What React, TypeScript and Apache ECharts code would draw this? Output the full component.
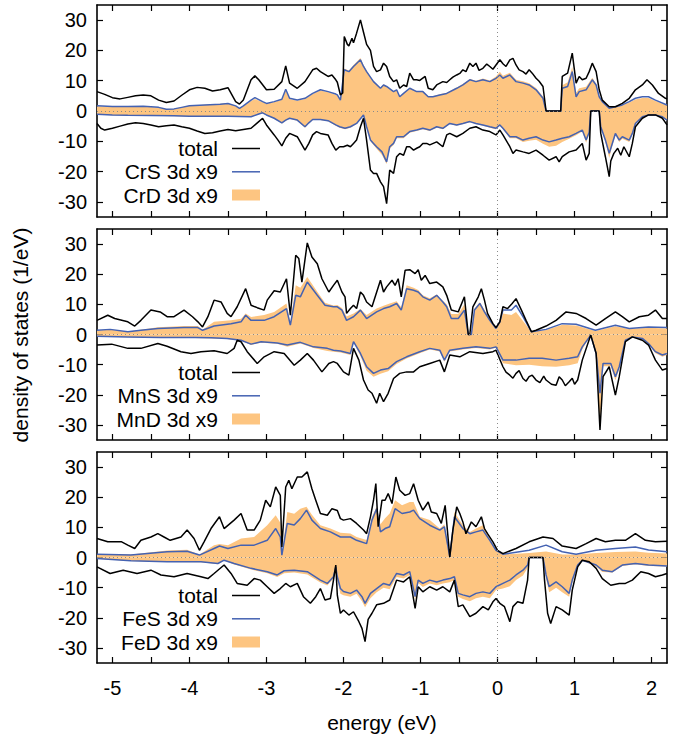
import React, { useEffect, useRef } from "react";
import * as echarts from "echarts";

const X_LABELS = [-5, -4, -3, -2, -1, 0, 1, 2];
const X_TICKS = [-5, -4.5, -4, -3.5, -3, -2.5, -2, -1.5, -1, -0.5, 0, 0.5, 1, 1.5, 2];
const Y_TICKS = [-30, -20, -10, 0, 10, 20, 30];
const PANEL_NAMES = ["Cr", "Mn", "Fe"];

// ---------- Cr panel ----------
const CR_TOT_UP = [[-5.2,6.4],[-5.1,5.5],[-5.0,4.4],[-4.9,4.0],[-4.8,4.5],[-4.7,5.0],[-4.6,5.3],[-4.5,5.0],[-4.4,3.6],[-4.3,2.8],[-4.2,3.3],[-4.1,5.2],[-4.0,7.0],[-3.9,7.8],[-3.8,7.5],[-3.7,6.6],[-3.6,7.0],[-3.5,7.7],[-3.4,3.1],[-3.35,2.3],[-3.3,3.6],[-3.2,10.3],[-3.15,11.6],[-3.1,10.3],[-3.0,7.0],[-2.9,7.2],[-2.8,9.7],[-2.75,14.9],[-2.7,9.2],[-2.6,7.5],[-2.5,9.7],[-2.4,13.6],[-2.35,14.1],[-2.3,13.0],[-2.2,11.4],[-2.15,11.9],[-2.1,10.3],[-2.08,9.5],[-2.04,5.3],[-2.01,6.0],[-1.99,24.6],[-1.95,22.0],[-1.93,21.5],[-1.89,24.0],[-1.87,22.5],[-1.83,25.7],[-1.78,30.1],[-1.74,26.0],[-1.70,22.0],[-1.65,20.0],[-1.61,14.7],[-1.57,13.0],[-1.52,13.6],[-1.48,15.8],[-1.44,14.7],[-1.40,11.4],[-1.35,9.7],[-1.31,10.3],[-1.27,7.5],[-1.22,8.6],[-1.18,8.1],[-1.14,12.5],[-1.09,10.3],[-1.05,10.3],[-1.01,10.1],[-0.94,11.4],[-0.90,7.5],[-0.84,7.0],[-0.79,8.6],[-0.71,9.7],[-0.66,9.4],[-0.62,10.3],[-0.58,11.2],[-0.53,11.9],[-0.49,12.4],[-0.45,13.6],[-0.41,13.0],[-0.36,15.8],[-0.32,14.7],[-0.28,15.8],[-0.24,13.4],[-0.19,14.1],[-0.14,15.5],[-0.10,14.7],[-0.06,13.8],[-0.02,15.2],[0.03,16.9],[0.07,15.6],[0.11,14.7],[0.16,16.9],[0.20,17.4],[0.24,15.2],[0.28,13.6],[0.33,13.0],[0.37,12.2],[0.41,13.6],[0.45,12.5],[0.50,10.8],[0.54,9.8],[0.59,8.1],[0.63,0],[0.82,0],[0.84,11.4],[0.91,12.5],[0.97,19.1],[1.02,9.2],[1.06,11.4],[1.10,10.3],[1.15,10.8],[1.19,13.0],[1.23,15.8],[1.28,13.0],[1.32,7.0],[1.36,3.6],[1.45,1.4],[1.53,1.4],[1.62,2.5],[1.71,4.2],[1.79,7.0],[1.88,8.6],[1.94,10.3],[2.01,8.6],[2.09,5.8],[2.18,4.2],[2.2,4.0]];
const CR_S_UP = [[-5.2,1.7],[-5.0,1.5],[-4.8,1.5],[-4.6,1.6],[-4.4,1.2],[-4.3,0.6],[-4.2,0.7],[-4.1,1.2],[-4.0,1.7],[-3.8,2.0],[-3.6,2.2],[-3.5,2.5],[-3.4,1.7],[-3.35,0.9],[-3.3,1.7],[-3.2,3.6],[-3.15,4.4],[-3.05,3.1],[-3.0,2.5],[-2.9,3.1],[-2.8,3.9],[-2.75,7.2],[-2.7,4.2],[-2.6,3.6],[-2.5,4.2],[-2.4,5.8],[-2.3,7.0],[-2.2,6.4],[-2.1,5.6],[-2.08,5.3],[-2.04,3.6],[-1.99,13.6],[-1.93,13.0],[-1.87,14.7],[-1.78,16.9],[-1.74,14.7],[-1.70,13.0],[-1.61,9.7],[-1.52,7.5],[-1.48,8.6],[-1.44,8.1],[-1.35,6.4],[-1.31,7.0],[-1.27,4.7],[-1.22,5.8],[-1.14,7.5],[-1.05,6.4],[-0.97,6.4],[-0.90,4.7],[-0.84,4.7],[-0.75,5.3],[-0.66,5.8],[-0.53,7.5],[-0.45,8.6],[-0.36,10.3],[-0.28,9.7],[-0.19,10.3],[-0.10,9.7],[-0.02,10.8],[0.03,11.9],[0.07,10.8],[0.16,11.9],[0.24,9.7],[0.33,9.2],[0.41,8.6],[0.50,7.0],[0.59,4.2],[0.63,0],[0.82,0],[0.84,7.5],[0.91,8.1],[0.97,13.0],[1.02,4.7],[1.06,6.4],[1.15,7.0],[1.23,10.3],[1.28,8.6],[1.32,4.7],[1.36,3.1],[1.45,0.9],[1.53,1.4],[1.62,2.0],[1.71,3.1],[1.79,4.2],[1.88,4.7],[1.96,4.7],[2.05,3.6],[2.2,2.0]];
const CR_D_UP = [[-5.2,1.6],[-5.0,1.4],[-4.8,1.4],[-4.6,1.5],[-4.4,1.1],[-4.3,0.6],[-4.2,0.7],[-4.1,1.2],[-4.0,1.8],[-3.8,2.1],[-3.6,2.4],[-3.5,2.6],[-3.4,1.6],[-3.35,0.8],[-3.3,1.6],[-3.2,3.3],[-3.15,4.0],[-3.05,2.9],[-3.0,2.4],[-2.9,3.0],[-2.8,3.7],[-2.75,6.8],[-2.7,4.0],[-2.6,3.4],[-2.5,4.0],[-2.4,5.6],[-2.3,6.8],[-2.2,6.2],[-2.1,5.4],[-2.08,5.1],[-2.04,3.4],[-1.99,14.0],[-1.93,13.4],[-1.87,15.2],[-1.78,17.5],[-1.74,15.2],[-1.70,13.4],[-1.61,9.9],[-1.52,7.6],[-1.48,8.8],[-1.44,8.2],[-1.35,6.5],[-1.31,7.1],[-1.27,4.8],[-1.22,5.9],[-1.14,7.7],[-1.05,6.6],[-0.97,6.6],[-0.90,4.9],[-0.84,4.9],[-0.75,5.5],[-0.66,6.0],[-0.53,7.8],[-0.45,8.9],[-0.36,10.6],[-0.28,10.0],[-0.19,10.7],[-0.10,10.1],[-0.02,11.4],[0.03,13.0],[0.07,11.6],[0.16,12.6],[0.24,10.3],[0.33,9.8],[0.41,9.2],[0.50,7.6],[0.59,4.8],[0.63,0],[0.82,0],[0.84,8.5],[0.91,9.5],[0.97,14.5],[1.02,6.0],[1.06,7.5],[1.15,8.0],[1.23,11.0],[1.28,9.0],[1.32,4.8],[1.36,3.0],[1.45,0.8],[1.53,1.2],[1.62,1.8],[1.71,2.8],[1.79,3.8],[1.88,4.3],[1.96,4.3],[2.05,3.3],[2.2,1.8]];
const CR_TOT_DN = [[-5.2,-4.1],[-5.15,-5.7],[-5.1,-6.3],[-5.0,-5.7],[-4.9,-5.0],[-4.8,-4.3],[-4.7,-3.9],[-4.6,-4.1],[-4.5,-4.6],[-4.4,-5.2],[-4.3,-4.9],[-4.2,-4.6],[-4.1,-5.2],[-4.0,-5.7],[-3.9,-6.6],[-3.8,-7.4],[-3.7,-7.2],[-3.6,-6.6],[-3.5,-6.1],[-3.4,-6.5],[-3.3,-6.1],[-3.2,-5.7],[-3.1,-3.5],[-3.05,-2.4],[-3.0,-4.6],[-2.9,-7.9],[-2.85,-9.6],[-2.8,-11.5],[-2.75,-9.0],[-2.7,-7.4],[-2.6,-8.5],[-2.55,-10.7],[-2.5,-12.9],[-2.45,-10.7],[-2.4,-7.9],[-2.35,-6.8],[-2.3,-7.4],[-2.2,-7.9],[-2.15,-10.7],[-2.1,-12.9],[-2.05,-11.8],[-2.0,-11.8],[-1.95,-11.3],[-1.91,-11.8],[-1.87,-10.7],[-1.83,-9.6],[-1.78,-5.2],[-1.74,-2.4],[-1.70,-9.6],[-1.65,-19.5],[-1.61,-20.6],[-1.57,-20.6],[-1.52,-23.4],[-1.48,-25.0],[-1.44,-30.6],[-1.42,-25.0],[-1.40,-19.5],[-1.35,-20.6],[-1.31,-15.1],[-1.27,-14.0],[-1.22,-14.6],[-1.18,-11.8],[-1.14,-11.8],[-1.09,-12.9],[-1.05,-12.3],[-1.01,-11.8],[-0.97,-10.7],[-0.92,-10.7],[-0.88,-11.2],[-0.79,-10.2],[-0.71,-11.8],[-0.66,-7.9],[-0.62,-7.4],[-0.53,-8.5],[-0.45,-7.4],[-0.36,-5.7],[-0.28,-5.2],[-0.19,-6.3],[-0.10,-6.8],[-0.02,-7.9],[0.03,-6.3],[0.07,-7.9],[0.16,-11.8],[0.20,-14.0],[0.24,-12.9],[0.33,-13.5],[0.41,-14.0],[0.50,-12.9],[0.59,-14.6],[0.67,-16.2],[0.76,-15.1],[0.80,-16.8],[0.84,-15.1],[0.93,-13.5],[1.02,-12.9],[1.10,-10.7],[1.15,-16.2],[1.19,-14.0],[1.21,0],[1.32,0],[1.34,-7.4],[1.40,-15.1],[1.45,-21.7],[1.47,-16.5],[1.51,-14.0],[1.56,-12.3],[1.60,-14.6],[1.64,-11.8],[1.71,-15.1],[1.75,-10.7],[1.79,-5.2],[1.88,-2.4],[1.96,-1.3],[2.05,-1.3],[2.14,-2.4],[2.2,-4.6]];
const CR_S_DN = [[-5.2,-1.1],[-5.0,-1.3],[-4.8,-1.4],[-4.5,-1.5],[-4.2,-1.6],[-4.0,-1.7],[-3.8,-1.7],[-3.5,-1.7],[-3.2,-1.9],[-3.1,-1.0],[-3.05,-0.6],[-3.0,-1.3],[-2.9,-2.4],[-2.8,-3.9],[-2.75,-3.0],[-2.7,-2.4],[-2.6,-3.0],[-2.5,-5.2],[-2.45,-3.9],[-2.4,-2.8],[-2.3,-2.8],[-2.2,-3.2],[-2.1,-4.6],[-2.05,-5.2],[-1.98,-5.7],[-1.91,-5.2],[-1.83,-4.1],[-1.74,-1.3],[-1.70,-5.2],[-1.65,-9.6],[-1.61,-10.7],[-1.57,-11.8],[-1.50,-13.5],[-1.44,-16.8],[-1.40,-11.8],[-1.35,-10.7],[-1.31,-8.5],[-1.22,-8.5],[-1.14,-6.8],[-1.05,-6.3],[-0.97,-5.7],[-0.88,-6.3],[-0.79,-5.2],[-0.71,-5.7],[-0.62,-4.1],[-0.53,-4.6],[-0.45,-4.1],[-0.36,-3.5],[-0.28,-4.1],[-0.19,-4.6],[-0.10,-5.2],[-0.02,-5.7],[0.03,-4.6],[0.07,-5.7],[0.16,-8.5],[0.24,-8.5],[0.33,-9.6],[0.41,-9.0],[0.50,-8.5],[0.59,-9.6],[0.67,-10.2],[0.76,-9.6],[0.84,-9.0],[0.93,-8.5],[1.02,-7.4],[1.10,-6.3],[1.15,-9.6],[1.19,-7.0],[1.21,0],[1.32,0],[1.34,-5.2],[1.40,-9.6],[1.45,-14.0],[1.49,-10.7],[1.53,-7.4],[1.58,-9.6],[1.62,-8.5],[1.71,-9.6],[1.75,-7.4],[1.79,-4.1],[1.88,-1.9],[1.96,-1.3],[2.05,-1.3],[2.14,-1.9],[2.2,-3.0]];
const CR_D_DN = [[-5.2,-1.2],[-5.0,-1.4],[-4.8,-1.5],[-4.5,-1.6],[-4.2,-1.7],[-4.0,-1.8],[-3.8,-1.8],[-3.5,-1.8],[-3.2,-2.0],[-3.1,-1.1],[-3.05,-0.7],[-3.0,-1.4],[-2.9,-2.6],[-2.8,-4.1],[-2.75,-3.2],[-2.7,-2.6],[-2.6,-3.2],[-2.5,-5.5],[-2.45,-4.1],[-2.4,-3.0],[-2.3,-3.0],[-2.2,-3.4],[-2.1,-4.9],[-2.05,-5.5],[-1.98,-6.0],[-1.91,-5.5],[-1.83,-4.3],[-1.74,-1.4],[-1.70,-5.5],[-1.65,-10.0],[-1.61,-11.2],[-1.57,-12.5],[-1.50,-14.5],[-1.44,-17.5],[-1.40,-12.5],[-1.35,-11.2],[-1.31,-9.0],[-1.22,-9.0],[-1.14,-7.2],[-1.05,-6.6],[-0.97,-6.0],[-0.88,-6.6],[-0.79,-5.5],[-0.71,-6.0],[-0.62,-4.3],[-0.53,-4.9],[-0.45,-4.3],[-0.36,-3.7],[-0.28,-4.3],[-0.19,-4.9],[-0.10,-5.5],[-0.02,-6.0],[0.03,-4.9],[0.07,-6.0],[0.16,-9.0],[0.24,-9.0],[0.33,-10.2],[0.41,-9.8],[0.50,-9.5],[0.59,-10.8],[0.67,-11.8],[0.76,-11.5],[0.84,-10.2],[0.93,-9.2],[1.02,-8.0],[1.10,-6.8],[1.15,-10.5],[1.19,-7.5],[1.21,0],[1.32,0],[1.34,-5.5],[1.40,-10.2],[1.45,-15.5],[1.49,-11.5],[1.53,-8.0],[1.58,-10.2],[1.62,-9.2],[1.71,-10.2],[1.75,-7.8],[1.79,-4.3],[1.88,-2.0],[1.96,-1.4],[2.05,-1.4],[2.14,-2.0],[2.2,-3.2]];

// ---------- Mn panel ----------
const MN_TOT_UP = [[-5.2,4.7],[-5.06,6.4],[-4.97,5.3],[-4.8,4.2],[-4.71,2.8],[-4.63,4.7],[-4.5,8.1],[-4.38,7.5],[-4.29,5.9],[-4.2,5.9],[-4.07,8.1],[-3.96,5.9],[-3.89,4.2],[-3.83,2.5],[-3.76,5.9],[-3.68,11.4],[-3.59,10.8],[-3.51,7.0],[-3.46,5.9],[-3.38,9.2],[-3.27,15.2],[-3.2,9.7],[-3.12,8.9],[-3.03,8.1],[-2.99,11.4],[-2.9,14.5],[-2.82,14.1],[-2.74,18.5],[-2.69,6.4],[-2.62,26.3],[-2.58,25.2],[-2.54,17.4],[-2.47,30.4],[-2.41,25.7],[-2.34,23.5],[-2.28,18.5],[-2.19,14.1],[-2.13,16.3],[-2.08,18.0],[-2.02,14.1],[-1.98,12.5],[-1.96,7.0],[-1.91,8.6],[-1.87,9.7],[-1.83,8.6],[-1.78,14.1],[-1.74,13.0],[-1.70,10.8],[-1.63,9.2],[-1.52,18.0],[-1.48,14.1],[-1.44,15.8],[-1.37,18.0],[-1.33,16.3],[-1.29,18.5],[-1.25,12.5],[-1.20,21.3],[-1.14,21.5],[-1.07,20.2],[-1.03,21.5],[-0.99,18.0],[-0.94,19.6],[-0.88,16.9],[-0.79,17.4],[-0.71,15.8],[-0.66,13.0],[-0.60,8.1],[-0.51,7.5],[-0.43,12.5],[-0.38,0],[-0.36,0],[-0.32,9.2],[-0.25,12.5],[-0.21,15.2],[-0.17,11.4],[-0.13,7.0],[-0.06,3.6],[-0.02,2.3],[0.03,4.2],[0.07,9.2],[0.13,8.6],[0.19,10.3],[0.24,11.9],[0.31,8.1],[0.37,4.7],[0.44,0.9],[0.50,1.4],[0.63,2.8],[0.76,4.7],[0.89,7.5],[1.02,7.0],[1.15,5.3],[1.28,3.1],[1.40,5.3],[1.53,7.5],[1.62,5.9],[1.71,4.2],[1.84,5.9],[1.96,6.4],[2.05,8.1],[2.14,5.3],[2.2,5.3]];
const MN_S_UP = [[-5.2,1.4],[-5.03,1.7],[-4.8,0.9],[-4.63,1.4],[-4.41,2.0],[-4.07,2.3],[-3.89,2.3],[-3.83,1.4],[-3.68,2.8],[-3.46,3.6],[-3.33,4.2],[-3.27,6.4],[-3.2,4.7],[-3.03,4.7],[-2.9,5.9],[-2.74,8.6],[-2.69,3.1],[-2.62,13.0],[-2.56,12.5],[-2.47,17.4],[-2.34,13.0],[-2.24,9.7],[-2.13,9.2],[-2.08,9.2],[-2.02,8.1],[-1.96,4.7],[-1.87,5.9],[-1.78,8.1],[-1.70,5.3],[-1.57,7.5],[-1.48,8.6],[-1.40,9.2],[-1.31,10.3],[-1.25,8.1],[-1.18,15.2],[-1.09,14.7],[-1.03,14.1],[-0.97,12.5],[-0.88,11.4],[-0.79,13.0],[-0.71,10.8],[-0.66,9.2],[-0.60,5.3],[-0.51,5.3],[-0.43,8.1],[-0.38,0],[-0.34,0],[-0.30,8.1],[-0.23,10.3],[-0.17,7.5],[-0.10,4.7],[-0.02,2.0],[0.03,4.2],[0.07,8.1],[0.18,8.1],[0.24,9.7],[0.33,5.9],[0.44,0.9],[0.63,1.7],[0.84,3.6],[1.02,3.4],[1.27,1.4],[1.53,3.1],[1.71,2.0],[1.96,2.5],[2.2,2.3]];
const MN_D_UP = [[-5.2,1.3],[-5.03,1.6],[-4.8,1.0],[-4.63,1.6],[-4.41,2.4],[-4.07,2.8],[-3.89,2.8],[-3.83,1.6],[-3.68,4.2],[-3.46,4.7],[-3.33,5.2],[-3.27,7.0],[-3.2,5.8],[-3.03,6.5],[-2.9,7.5],[-2.74,10.3],[-2.69,4.0],[-2.62,16.3],[-2.56,15.5],[-2.47,19.1],[-2.34,14.2],[-2.24,10.5],[-2.13,9.6],[-2.08,9.8],[-2.02,8.8],[-1.96,6.0],[-1.87,7.0],[-1.78,8.5],[-1.70,6.5],[-1.57,8.6],[-1.48,9.5],[-1.40,10.3],[-1.31,11.0],[-1.25,9.0],[-1.18,16.3],[-1.09,15.5],[-1.03,14.8],[-0.97,13.0],[-0.88,12.0],[-0.79,13.3],[-0.71,11.2],[-0.66,10.0],[-0.60,6.8],[-0.51,6.8],[-0.43,10.0],[-0.38,0],[-0.34,0],[-0.30,8.5],[-0.23,10.8],[-0.17,8.2],[-0.10,5.0],[-0.02,2.2],[0.03,3.8],[0.07,7.0],[0.18,6.5],[0.24,7.5],[0.33,4.5],[0.44,0.9],[0.63,1.5],[0.84,3.2],[1.02,3.0],[1.27,1.2],[1.53,2.7],[1.71,1.8],[1.96,2.2],[2.2,2.0]];
const MN_TOT_DN = [[-5.2,-3.5],[-5.01,-3.2],[-4.8,-4.6],[-4.63,-4.6],[-4.41,-3.0],[-4.29,-3.9],[-4.11,-5.7],[-3.98,-6.3],[-3.85,-5.7],[-3.68,-5.4],[-3.51,-6.3],[-3.42,-4.6],[-3.38,-1.9],[-3.33,-2.4],[-3.25,-5.7],[-3.12,-9.6],[-3.03,-7.4],[-2.9,-5.7],[-2.77,-6.3],[-2.64,-10.2],[-2.56,-8.5],[-2.47,-6.3],[-2.39,-8.5],[-2.28,-12.4],[-2.19,-9.6],[-2.13,-9.0],[-2.08,-9.6],[-2.0,-12.4],[-1.93,-13.5],[-1.87,-4.6],[-1.80,-8.5],[-1.74,-15.1],[-1.68,-18.4],[-1.63,-19.5],[-1.57,-22.8],[-1.53,-19.5],[-1.48,-22.3],[-1.42,-19.5],[-1.35,-14.6],[-1.27,-12.9],[-1.18,-12.4],[-1.09,-12.4],[-1.01,-10.7],[-0.88,-9.6],[-0.75,-8.5],[-0.69,-12.4],[-0.62,-6.8],[-0.49,-7.4],[-0.36,-5.7],[-0.19,-6.3],[-0.06,-5.7],[-0.02,-5.2],[0.07,-10.7],[0.11,-12.5],[0.16,-13.5],[0.20,-14.5],[0.24,-12.9],[0.28,-12.0],[0.33,-14.6],[0.37,-15.5],[0.41,-14.0],[0.45,-13.5],[0.50,-15.1],[0.55,-16.0],[0.60,-13.8],[0.63,-15.1],[0.70,-16.5],[0.76,-16.8],[0.80,-14.0],[0.84,-15.1],[0.88,-17.0],[0.93,-15.7],[0.97,-14.5],[1.00,-16.5],[1.04,-15.1],[1.10,-8.5],[1.21,-0.2],[1.28,-6.3],[1.33,-31.7],[1.37,-14.0],[1.45,-10.7],[1.53,-20.1],[1.58,-14.0],[1.66,-2.4],[1.75,-0.8],[1.88,-1.9],[1.96,-3.5],[2.05,-8.5],[2.14,-11.8],[2.2,-11.3]];
const MN_S_DN = [[-5.2,-0.6],[-4.8,-0.8],[-4.37,-1.0],[-3.93,-1.0],[-3.72,-1.1],[-3.51,-1.3],[-3.33,-1.9],[-3.2,-3.2],[-3.07,-2.4],[-2.86,-2.8],[-2.73,-3.5],[-2.56,-2.6],[-2.39,-4.1],[-2.21,-4.6],[-2.13,-5.2],[-2.04,-5.5],[-1.91,-6.3],[-1.87,-2.4],[-1.78,-6.3],[-1.70,-10.7],[-1.61,-12.9],[-1.52,-11.8],[-1.42,-11.3],[-1.31,-9.0],[-1.18,-7.4],[-1.01,-5.7],[-0.88,-4.6],[-0.75,-5.2],[-0.69,-8.5],[-0.62,-5.2],[-0.45,-4.6],[-0.28,-4.1],[-0.10,-4.6],[-0.02,-4.1],[0.07,-8.5],[0.24,-8.5],[0.41,-7.9],[0.58,-7.9],[0.76,-8.5],[0.93,-7.9],[1.04,-7.4],[1.10,-4.1],[1.21,-0.2],[1.28,-6.3],[1.33,-19.5],[1.37,-9.6],[1.47,-9.6],[1.53,-14.0],[1.58,-10.7],[1.66,-1.9],[1.75,-0.8],[1.88,-1.3],[1.96,-3.0],[2.05,-5.7],[2.14,-6.8],[2.2,-6.3]];
const MN_D_DN = [[-5.2,-0.7],[-4.8,-0.9],[-4.37,-1.1],[-3.93,-1.2],[-3.72,-1.3],[-3.51,-1.5],[-3.33,-2.1],[-3.2,-3.5],[-3.07,-2.7],[-2.86,-3.1],[-2.73,-4.1],[-2.56,-3.0],[-2.39,-4.5],[-2.21,-5.5],[-2.13,-5.7],[-2.04,-6.0],[-1.91,-6.8],[-1.87,-2.6],[-1.78,-7.2],[-1.70,-12.0],[-1.61,-14.0],[-1.52,-13.0],[-1.42,-12.2],[-1.31,-9.8],[-1.18,-8.0],[-1.01,-6.2],[-0.88,-5.0],[-0.75,-5.6],[-0.69,-9.0],[-0.62,-5.6],[-0.45,-5.0],[-0.28,-4.5],[-0.10,-5.0],[-0.02,-4.4],[0.07,-9.5],[0.24,-10.2],[0.41,-10.0],[0.58,-10.5],[0.76,-10.7],[0.93,-10.2],[1.04,-9.5],[1.10,-5.0],[1.21,-0.2],[1.28,-7.0],[1.33,-30.8],[1.37,-10.5],[1.47,-10.5],[1.53,-15.2],[1.58,-11.5],[1.66,-2.0],[1.75,-0.8],[1.88,-1.4],[1.96,-3.2],[2.05,-6.2],[2.14,-7.4],[2.2,-6.8]];

// ---------- Fe panel ----------
const FE_TOT_UP = [[-5.2,6.3],[-5.06,5.2],[-4.88,5.2],[-4.8,4.1],[-4.71,3.0],[-4.63,5.7],[-4.5,6.8],[-4.41,7.9],[-4.33,6.8],[-4.25,5.7],[-4.11,6.8],[-4.03,9.1],[-3.94,6.3],[-3.87,2.4],[-3.81,5.2],[-3.72,9.6],[-3.61,13.5],[-3.55,9.6],[-3.42,12.4],[-3.33,14.6],[-3.25,9.1],[-3.16,9.1],[-3.08,12.4],[-3.01,19.0],[-2.95,16.8],[-2.88,23.4],[-2.82,20.6],[-2.80,3.5],[-2.75,23.4],[-2.71,25.6],[-2.67,22.8],[-2.6,26.7],[-2.54,26.7],[-2.47,28.4],[-2.41,22.8],[-2.36,19.0],[-2.3,14.6],[-2.21,14.0],[-2.15,16.2],[-2.08,15.6],[-2.04,12.9],[-2.0,12.4],[-1.91,12.9],[-1.83,11.3],[-1.74,9.1],[-1.70,7.9],[-1.65,13.5],[-1.61,19.0],[-1.58,24.5],[-1.55,10.2],[-1.50,19.0],[-1.46,19.0],[-1.42,21.2],[-1.37,17.9],[-1.32,26.7],[-1.27,22.3],[-1.20,20.6],[-1.14,21.2],[-1.09,24.5],[-1.03,19.0],[-0.97,15.7],[-0.90,18.4],[-0.86,15.1],[-0.79,14.6],[-0.73,11.3],[-0.68,17.3],[-0.62,0.2],[-0.58,9.1],[-0.53,16.8],[-0.49,14.6],[-0.45,11.8],[-0.41,7.9],[-0.34,11.8],[-0.28,10.2],[-0.21,13.5],[-0.17,9.6],[-0.13,7.9],[-0.06,5.2],[0.0,2.4],[0.07,1.3],[0.24,3.0],[0.41,5.2],[0.59,6.8],[0.72,6.3],[0.84,3.8],[1.02,3.0],[1.15,4.6],[1.28,6.3],[1.40,5.2],[1.53,5.7],[1.66,5.7],[1.79,7.9],[1.92,5.7],[2.05,5.2],[2.2,5.4]];
const FE_S_UP = [[-5.2,1.1],[-4.76,0.8],[-4.29,1.9],[-4.03,2.1],[-3.87,0.8],[-3.68,3.0],[-3.61,3.8],[-3.5,3.0],[-3.33,4.1],[-3.16,4.1],[-2.99,5.7],[-2.88,9.6],[-2.82,6.8],[-2.80,0.8],[-2.73,11.3],[-2.64,10.8],[-2.56,12.9],[-2.48,15.7],[-2.41,12.4],[-2.3,9.6],[-2.17,8.5],[-2.04,6.8],[-1.91,6.8],[-1.83,5.7],[-1.70,4.6],[-1.63,12.4],[-1.57,16.2],[-1.52,8.5],[-1.46,9.6],[-1.40,10.2],[-1.33,16.2],[-1.24,14.6],[-1.14,15.1],[-1.09,15.7],[-1.01,12.9],[-0.88,10.7],[-0.75,9.1],[-0.69,10.2],[-0.62,0.2],[-0.56,13.5],[-0.45,9.6],[-0.36,7.9],[-0.28,8.5],[-0.19,9.1],[-0.10,5.7],[-0.02,2.4],[0.07,1.1],[0.41,2.4],[0.63,4.1],[0.84,1.9],[1.02,1.1],[1.28,2.4],[1.53,3.0],[1.79,3.5],[1.96,2.5],[2.2,1.9]];
const FE_D_UP = [[-5.2,1.2],[-4.76,1.0],[-4.29,2.3],[-4.03,2.6],[-3.87,1.0],[-3.68,4.1],[-3.61,4.5],[-3.5,4.1],[-3.33,6.3],[-3.16,6.8],[-2.99,10.7],[-2.88,14.0],[-2.82,11.5],[-2.80,0.8],[-2.73,15.1],[-2.64,14.5],[-2.56,16.2],[-2.48,16.8],[-2.41,14.2],[-2.3,10.7],[-2.17,9.6],[-2.04,8.2],[-1.91,8.0],[-1.83,6.8],[-1.70,5.8],[-1.63,13.5],[-1.57,16.8],[-1.52,11.0],[-1.46,13.0],[-1.40,14.6],[-1.33,19.0],[-1.24,17.3],[-1.14,18.4],[-1.09,18.4],[-1.01,13.5],[-0.88,12.4],[-0.75,9.6],[-0.69,11.0],[-0.62,0.2],[-0.56,15.1],[-0.45,10.7],[-0.36,8.5],[-0.28,9.6],[-0.19,10.7],[-0.10,6.3],[-0.02,2.4],[0.07,1.0],[0.41,1.5],[0.63,2.0],[0.84,1.0],[1.02,1.0],[1.28,1.5],[1.53,1.8],[1.79,2.0],[1.96,1.6],[2.2,1.3]];
const FE_TOT_DN = [[-5.2,-3.1],[-5.03,-5.3],[-4.86,-4.2],[-4.68,-5.3],[-4.5,-4.2],[-4.37,-5.8],[-4.2,-6.4],[-4.03,-5.3],[-3.85,-6.4],[-3.76,-7.0],[-3.68,-5.3],[-3.55,-2.5],[-3.46,-5.3],[-3.38,-8.6],[-3.25,-9.2],[-3.16,-7.0],[-3.08,-7.5],[-2.99,-9.7],[-2.9,-11.9],[-2.82,-10.3],[-2.75,-8.6],[-2.69,-9.7],[-2.6,-8.6],[-2.52,-13.0],[-2.43,-15.2],[-2.36,-13.0],[-2.3,-10.3],[-2.24,-14.1],[-2.17,-13.6],[-2.13,-7.5],[-2.10,-2.5],[-2.08,-12.5],[-2.04,-18.5],[-2.0,-17.4],[-1.93,-19.1],[-1.87,-18.0],[-1.80,-21.3],[-1.76,-23.5],[-1.72,-27.9],[-1.68,-20.5],[-1.63,-18.5],[-1.57,-15.7],[-1.48,-15.2],[-1.40,-14.1],[-1.31,-7.5],[-1.22,-8.1],[-1.14,-6.4],[-1.07,-16.9],[-1.03,-9.7],[-0.97,-11.4],[-0.88,-9.7],[-0.79,-10.8],[-0.71,-9.7],[-0.62,-11.4],[-0.56,-7.5],[-0.51,-16.3],[-0.45,-15.7],[-0.36,-19.6],[-0.28,-18.5],[-0.19,-16.3],[-0.12,-17.4],[-0.06,-14.7],[-0.02,-13.6],[0.03,-15.2],[0.09,-16.3],[0.16,-21.3],[0.20,-16.3],[0.26,-14.7],[0.33,-15.2],[0.39,-7.5],[0.41,0],[0.59,0],[0.61,-7.5],[0.65,-18.5],[0.69,-21.9],[0.76,-16.3],[0.84,-17.4],[0.93,-19.1],[0.97,-10.8],[1.04,-3.1],[1.10,-0.9],[1.19,-1.4],[1.28,-3.6],[1.36,-7.0],[1.47,-9.2],[1.58,-8.6],[1.66,-8.6],[1.75,-7.5],[1.86,-4.7],[1.96,-5.3],[2.05,-6.4],[2.14,-5.8],[2.2,-5.3]];
const FE_S_DN = [[-5.2,-0.3],[-4.76,-1.1],[-4.29,-1.4],[-3.85,-1.4],[-3.63,-2.0],[-3.55,-0.9],[-3.42,-2.0],[-3.2,-3.6],[-2.99,-4.7],[-2.86,-5.8],[-2.77,-4.4],[-2.64,-4.2],[-2.47,-4.7],[-2.3,-7.5],[-2.21,-8.6],[-2.13,-6.4],[-2.10,-3.1],[-2.08,-6.4],[-2.04,-10.3],[-2.0,-11.3],[-1.91,-11.9],[-1.83,-10.8],[-1.76,-13.0],[-1.72,-15.2],[-1.65,-11.9],[-1.57,-10.3],[-1.48,-8.6],[-1.40,-9.2],[-1.31,-5.3],[-1.22,-5.8],[-1.14,-4.7],[-1.07,-13.0],[-1.03,-7.5],[-0.97,-8.6],[-0.88,-7.5],[-0.79,-8.1],[-0.71,-7.5],[-0.62,-7.0],[-0.56,-6.4],[-0.51,-11.9],[-0.45,-12.4],[-0.36,-13.0],[-0.28,-11.9],[-0.19,-11.4],[-0.10,-11.9],[-0.02,-9.7],[0.07,-8.6],[0.16,-7.5],[0.24,-5.8],[0.33,-4.2],[0.39,-2.5],[0.41,0],[0.59,0],[0.63,-5.8],[0.67,-9.7],[0.76,-8.1],[0.84,-9.7],[0.93,-11.9],[0.97,-7.5],[1.04,-2.5],[1.10,-0.9],[1.28,-2.5],[1.36,-4.2],[1.49,-4.7],[1.62,-2.5],[1.79,-2.0],[1.96,-2.5],[2.2,-2.8]];
const FE_D_DN = [[-5.2,-0.4],[-4.76,-1.2],[-4.29,-1.5],[-3.85,-1.6],[-3.63,-2.2],[-3.55,-1.0],[-3.42,-2.3],[-3.2,-4.0],[-2.99,-5.2],[-2.86,-6.5],[-2.77,-5.2],[-2.64,-5.0],[-2.47,-5.6],[-2.3,-8.3],[-2.21,-9.3],[-2.13,-7.0],[-2.10,-3.3],[-2.08,-7.5],[-2.04,-12.0],[-2.0,-12.5],[-1.91,-13.0],[-1.83,-12.0],[-1.76,-14.5],[-1.72,-16.5],[-1.65,-13.5],[-1.57,-11.5],[-1.48,-10.0],[-1.40,-10.5],[-1.31,-6.5],[-1.22,-7.0],[-1.14,-5.8],[-1.07,-14.0],[-1.03,-8.5],[-0.97,-9.8],[-0.88,-8.6],[-0.79,-9.2],[-0.71,-8.6],[-0.62,-8.2],[-0.56,-7.5],[-0.51,-13.0],[-0.45,-13.8],[-0.36,-14.5],[-0.28,-13.5],[-0.19,-13.0],[-0.10,-13.5],[-0.02,-10.8],[0.07,-10.3],[0.16,-9.5],[0.24,-7.5],[0.33,-6.0],[0.39,-3.5],[0.41,0],[0.59,0],[0.63,-7.0],[0.67,-11.5],[0.76,-10.0],[0.84,-11.5],[0.93,-13.0],[0.97,-8.5],[1.04,-3.0],[1.10,-1.0],[1.28,-3.0],[1.36,-4.8],[1.49,-5.0],[1.62,-2.8],[1.79,-2.2],[1.96,-2.8],[2.2,-3.0]];

const PANELS = [
  { name: PANEL_NAMES[0], totUp: CR_TOT_UP, totDn: CR_TOT_DN, sUp: CR_S_UP, sDn: CR_S_DN, dUp: CR_D_UP, dDn: CR_D_DN },
  { name: PANEL_NAMES[1], totUp: MN_TOT_UP, totDn: MN_TOT_DN, sUp: MN_S_UP, sDn: MN_S_DN, dUp: MN_D_UP, dDn: MN_D_DN },
  { name: PANEL_NAMES[2], totUp: FE_TOT_UP, totDn: FE_TOT_DN, sUp: FE_S_UP, sDn: FE_S_DN, dUp: FE_D_UP, dDn: FE_D_DN },
];

const FONT = '"Liberation Sans", Arial, sans-serif';
const ORANGE = "#fdc581";
const BLUE = "#4462b2";
const BLACK = "#000000";
const GRID_LEFT = 97;
const GRID_WIDTH = 570;
const GRID_TOPS = [5, 229, 452];
const GRID_HEIGHTS = [212, 211, 211];

function buildOption() {
  const grid: any[] = [];
  const xAxis: any[] = [];
  const yAxis: any[] = [];
  const series: any[] = [];
  const graphic: any[] = [];
  const axisLine = { show: true, onZero: false, lineStyle: { color: BLACK, width: 1.6 } };
  const tickStyle = { color: BLACK, width: 1.2 };

  PANELS.forEach((p, i) => {
    const top = GRID_TOPS[i];
    grid.push({ left: GRID_LEFT, top, width: GRID_WIDTH, height: GRID_HEIGHTS[i], containLabel: false });
    const xBase = {
      gridIndex: i, type: "value", min: -5.2, max: 2.2,
      axisLine, splitLine: { show: false },
      axisTick: { show: true, inside: true, length: 6, customValues: X_TICKS, lineStyle: tickStyle },
    };
    xAxis.push({
      ...xBase, position: "bottom",
      axisLabel: { show: i === 2, customValues: X_LABELS, fontSize: 20, color: BLACK, fontFamily: FONT, margin: 15 },
    });
    xAxis.push({ ...xBase, position: "top", axisLabel: { show: false } });
    const yBase = {
      gridIndex: i, type: "value", min: -35, max: 35,
      axisLine, splitLine: { show: false },
      axisTick: { show: true, inside: true, length: 6, customValues: Y_TICKS, lineStyle: tickStyle },
    };
    yAxis.push({
      ...yBase, position: "left",
      axisLabel: { show: true, customValues: Y_TICKS, fontSize: 20, color: BLACK, fontFamily: FONT, margin: 10 },
    });
    yAxis.push({ ...yBase, position: "right", axisLabel: { show: false } });

    const ax = { xAxisIndex: 2 * i, yAxisIndex: 2 * i };
    const fill = (data: number[][]) => ({
      type: "line", ...ax, data, showSymbol: false, symbol: "none", silent: true,
      lineStyle: { width: 0, opacity: 0 }, areaStyle: { color: ORANGE, opacity: 1, origin: 0 }, z: 1,
    });
    const line = (data: number[][], color: string, z: number, extra: any = {}) => ({
      type: "line", ...ax, data, showSymbol: false, symbol: "none", silent: true,
      lineStyle: { width: 1.5, color }, z, ...extra,
    });
    series.push(fill(p.dUp));
    series.push(fill(p.dDn));
    series.push(line(p.sUp, BLUE, 3, {
      markLine: {
        silent: true, symbol: ["none", "none"], label: { show: false },
        lineStyle: { type: [1, 3], color: "#8a8a8a", width: 1 },
        data: [{ xAxis: 0 }, { yAxis: 0 }],
      },
    }));
    series.push(line(p.sDn, BLUE, 3));
    series.push(line(p.totUp, BLACK, 4));
    series.push(line(p.totDn, BLACK, 4));

    // legend (text right-aligned, sample on the right)
    const labels = ["total", `${p.name}S 3d x9`, `${p.name}D 3d x9`];
    const offs = [143.5, 166.8, 190];
    labels.forEach((t, k) => {
      graphic.push({
        type: "text", x: 218, y: top + offs[k], silent: true,
        style: { text: t, align: "right", verticalAlign: "middle", fontSize: 21, fontFamily: FONT, fill: BLACK },
      });
    });
    graphic.push({ type: "line", silent: true, shape: { x1: 232, y1: top + offs[0], x2: 260, y2: top + offs[0] }, style: { stroke: BLACK, lineWidth: 1.5 } });
    graphic.push({ type: "line", silent: true, shape: { x1: 232, y1: top + offs[1], x2: 260, y2: top + offs[1] }, style: { stroke: BLUE, lineWidth: 1.5 } });
    graphic.push({ type: "rect", silent: true, shape: { x: 232, y: top + offs[2] - 5.5, width: 28, height: 11 }, style: { fill: ORANGE } });
  });

  graphic.push({
    type: "text", x: 20, y: 335, rotation: Math.PI / 2, silent: true,
    style: { text: "density of states (1/eV)", align: "center", verticalAlign: "middle", fontSize: 21, fontFamily: FONT, fill: BLACK },
  });
  graphic.push({
    type: "text", x: 382, y: 722, silent: true,
    style: { text: "energy (eV)", align: "center", verticalAlign: "middle", fontSize: 21, fontFamily: FONT, fill: BLACK },
  });

  return {
    animation: false,
    backgroundColor: "#ffffff",
    textStyle: { fontFamily: FONT },
    grid, xAxis, yAxis, series, graphic,
  };
}

export default function App() {
  const ref = useRef<HTMLDivElement>(null);
  useEffect(() => {
    if (!ref.current) return;
    const chart = echarts.init(ref.current, null, { renderer: "svg" });
    chart.setOption(buildOption() as any);
    return () => chart.dispose();
  }, []);
  return (
    <div
      ref={ref}
      style={{ position: "absolute", left: 0, top: 0, width: 677, height: 739, background: "#fff" }}
    />
  );
}
